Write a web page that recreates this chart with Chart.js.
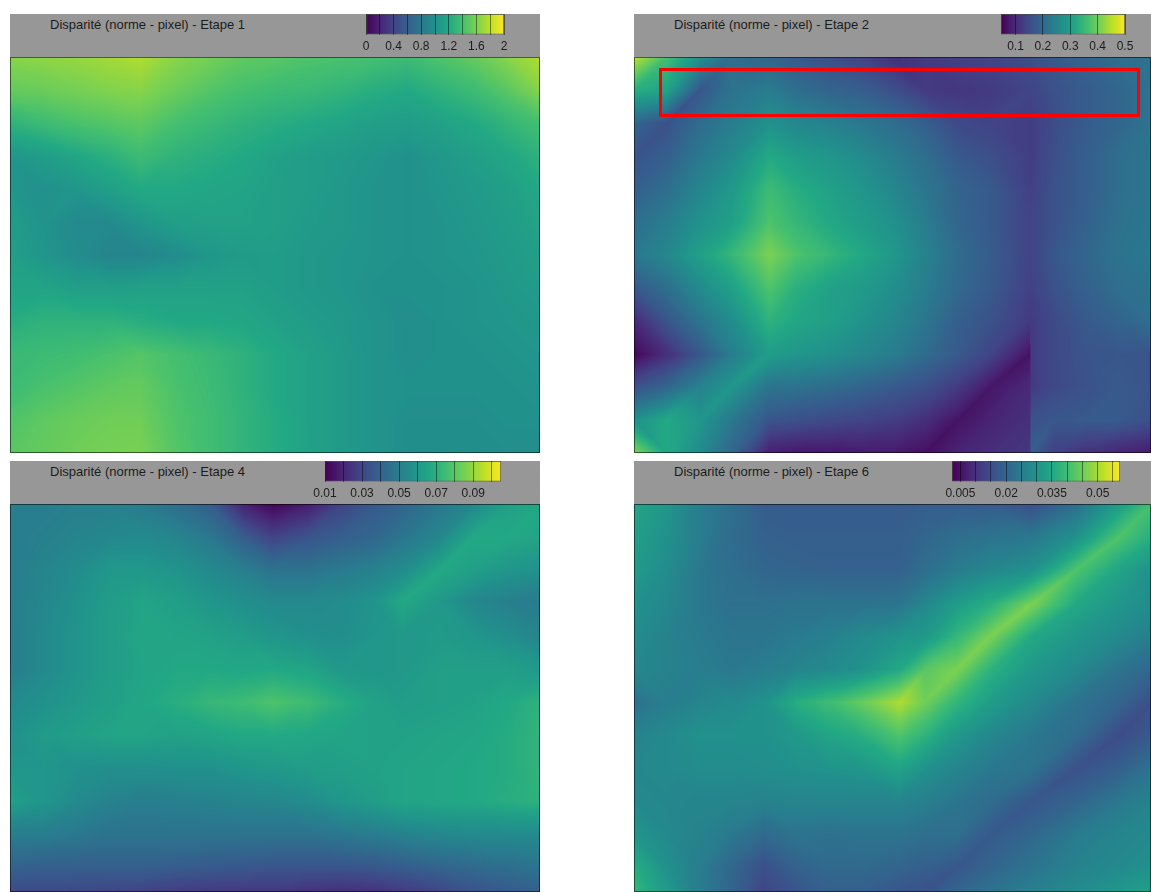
<!DOCTYPE html>
<html>
<head>
<meta charset="utf-8">
<title>Disparité</title>
<script src="https://cdn.jsdelivr.net/npm/chart.js@4"></script>
<style>
  html, body { margin: 0; background: #fff; }
  .bandeau { position: absolute; background: #979797; }
  .bandeau span { position: absolute; top: 3px; font: 13px "Liberation Sans", sans-serif; color: #1c1c1c; white-space: nowrap; }
  canvas { position: absolute; left: 0; top: 0; }
  .carte { position: absolute; }
</style>
</head>
<body>
<script>
// --- Data: disparity at image positions (colonnes, lignes) ---

const colonnes1 = [0,33,66,99,130,166,199,232,265,298,331,364,397,430,463,497,530]
const lignes1 = [0,33,66,99,132,165,198,231,264,297,330,363,396]
const etape1 = [
  [1.64,1.66,1.68,1.72,1.76,1.64,1.58,1.50,1.48,1.44,1.42,1.40,1.36,1.44,1.52,1.64,1.76],
  [1.52,1.54,1.58,1.62,1.64,1.54,1.46,1.40,1.36,1.34,1.30,1.24,1.20,1.28,1.36,1.48,1.64],
  [1.28,1.36,1.42,1.46,1.50,1.40,1.34,1.28,1.24,1.20,1.16,1.12,1.10,1.14,1.20,1.30,1.40],
  [1.04,1.10,1.18,1.26,1.36,1.28,1.24,1.20,1.14,1.10,1.08,1.04,1.00,1.06,1.12,1.18,1.28],
  [1.04,1.00,1.04,1.12,1.20,1.20,1.18,1.16,1.12,1.10,1.06,1.02,1.00,1.04,1.08,1.12,1.20],
  [1.10,1.02,0.94,0.94,1.04,1.12,1.14,1.14,1.12,1.08,1.06,1.02,1.00,1.02,1.06,1.10,1.16],
  [1.12,1.04,0.96,0.90,0.90,0.96,1.04,1.08,1.10,1.06,1.04,1.02,1.00,1.02,1.04,1.08,1.12],
  [1.16,1.16,1.12,1.12,1.14,1.14,1.14,1.14,1.10,1.06,1.04,1.00,1.00,1.00,1.02,1.06,1.10],
  [1.24,1.28,1.28,1.28,1.24,1.20,1.20,1.18,1.14,1.10,1.06,1.02,0.98,1.00,1.02,1.04,1.06],
  [1.34,1.36,1.38,1.42,1.46,1.40,1.34,1.28,1.20,1.14,1.08,1.02,0.98,1.00,1.00,1.02,1.04],
  [1.36,1.42,1.46,1.50,1.52,1.42,1.36,1.28,1.20,1.14,1.08,1.02,1.00,1.00,1.00,1.00,1.02],
  [1.44,1.50,1.54,1.56,1.56,1.44,1.38,1.30,1.22,1.14,1.08,1.02,0.98,0.98,0.98,1.00,1.00],
  [1.48,1.52,1.56,1.58,1.60,1.46,1.38,1.30,1.22,1.14,1.08,1.02,0.98,0.98,0.98,0.98,0.98]
]

const colonnes2 = [0,32,65,97,135,162,194,226,259,291,323,356,395,397,420,452,485,517]
const lignes2 = [0,33,66,99,132,165,197,231,264,297,330,363,396]
const etape2 = [
  [.455,.364,.274,.210,.196,.174,.156,.138,.110,.124,.133,.138,.156,.156,.174,.192,.210,.219],
  [.328,.310,.169,.219,.237,.210,.192,.183,.156,.124,.119,.124,.138,.138,.160,.178,.196,.219],
  [.192,.160,.206,.237,.274,.255,.246,.228,.210,.183,.147,.138,.129,.129,.151,.178,.196,.219],
  [.165,.183,.228,.260,.319,.296,.283,.264,.237,.210,.174,.156,.129,.129,.156,.183,.210,.224],
  [.183,.210,.251,.287,.355,.328,.305,.283,.255,.224,.192,.174,.133,.133,.160,.183,.210,.224],
  [.210,.237,.274,.301,.373,.346,.319,.296,.274,.237,.196,.174,.138,.138,.160,.187,.215,.224],
  [.228,.255,.301,.346,.409,.373,.346,.319,.287,.246,.206,.178,.138,.138,.169,.196,.219,.228],
  [.169,.210,.260,.301,.373,.332,.305,.292,.269,.237,.201,.174,.133,.133,.160,.187,.210,.219],
  [.101,.165,.219,.264,.337,.314,.301,.278,.255,.224,.183,.160,.124,.124,.147,.174,.192,.210],
  [.056,.106,.169,.237,.296,.283,.274,.255,.237,.206,.174,.138,.070,.124,.147,.165,.169,.165],
  [.160,.196,.246,.283,.219,.215,.206,.192,.174,.156,.124,.074,.101,.124,.147,.160,.174,.165],
  [.274,.319,.283,.228,.165,.156,.147,.138,.129,.106,.070,.092,.110,.160,.169,.174,.174,.156],
  [.418,.319,.264,.196,.083,.074,.074,.079,.079,.065,.092,.106,.119,.183,.129,.110,.092,.079]
]

const colonnes4 = [0,33,66,99,132,166,199,232,262,298,331,364,392,430,463,497,530]
const lignes4 = [0,33,66,97,132,165,198,231,264,297,330,363,388]
const etape4 = [
  [.0499,.0499,.0509,.0509,.049,.0442,.0385,.0195,.011,.0176,.029,.0366,.0404,.048,.0537,.0632,.067],
  [.0499,.0509,.0528,.0537,.0547,.0528,.048,.0385,.029,.0347,.0385,.0414,.0471,.0537,.067,.067,.0651],
  [.0499,.0528,.0556,.0604,.0604,.0585,.0547,.0509,.0461,.0461,.049,.0518,.0556,.067,.0632,.0594,.0575],
  [.0499,.0537,.0575,.0623,.0651,.0632,.0594,.0566,.0547,.0547,.0556,.0585,.067,.0604,.0537,.0509,.049],
  [.0499,.0547,.0585,.0623,.0661,.0651,.0642,.0623,.0594,.0575,.0566,.0594,.0604,.0613,.0594,.0566,.0528],
  [.0499,.0547,.0585,.0623,.0651,.067,.067,.0661,.067,.0651,.0604,.0594,.0604,.0632,.0632,.0632,.0613],
  [.0547,.0575,.0604,.0632,.0661,.0689,.0727,.0746,.0784,.0746,.0689,.0642,.0623,.0632,.0642,.067,.0708],
  [.0575,.0613,.0632,.0651,.0651,.0642,.0651,.067,.067,.0661,.0651,.0642,.0642,.0651,.0661,.068,.0718],
  [.0594,.0594,.0575,.0566,.0566,.0575,.0575,.0594,.0604,.0623,.0632,.0642,.0651,.0661,.067,.068,.0718],
  [.0632,.0594,.0547,.0518,.0499,.0509,.0518,.0528,.0537,.0556,.0594,.0623,.0651,.0661,.067,.0689,.0708],
  [.0499,.0499,.048,.0461,.0461,.0461,.0461,.0461,.0461,.0461,.048,.0499,.0518,.0537,.0547,.0547,.0547],
  [.0395,.0385,.0385,.0385,.0385,.0376,.0366,.0357,.0347,.0347,.0347,.0357,.0376,.0404,.0423,.0442,.0461],
  [.0309,.0309,.030,.029,.0281,.0262,.0252,.0252,.0252,.0233,.0224,.0233,.0252,.029,.0338,.0366,.0385]
]

const colonnes6 = [0,32,65,97,129,162,194,226,265,291,323,356,397,441,484,517]
const lignes6 = [0,33,66,100,132,165,198,231,264,297,330,363,388]
const etape6 = [
  [.0342,.0309,.0254,.0221,.0182,.0182,.0182,.0182,.0182,.0188,.0188,.0182,.0155,.0221,.0325,.0408],
  [.0331,.0298,.0254,.0215,.0193,.0188,.0188,.0188,.0188,.0204,.0221,.0232,.0243,.0298,.0419,.0364],
  [.0320,.0287,.0243,.0221,.0204,.0199,.0193,.0193,.0193,.0221,.0254,.0276,.0298,.0419,.0342,.0298],
  [.0298,.0276,.0243,.0226,.0226,.0232,.0232,.0232,.0237,.0276,.0325,.0369,.0463,.0353,.0309,.0287],
  [.0287,.0265,.0248,.0237,.0237,.0248,.0259,.0281,.0303,.0314,.0386,.0463,.0353,.0309,.0281,.0254],
  [.0276,.0265,.0254,.0243,.0254,.0270,.0281,.0298,.0353,.0430,.0463,.0375,.0314,.0281,.0232,.0204],
  [.0232,.0254,.0270,.0281,.0298,.0364,.0397,.0441,.0506,.0452,.0380,.0325,.0281,.0232,.0199,.0155],
  [.0265,.0281,.0298,.0298,.0298,.0314,.0342,.0364,.0419,.0375,.0314,.0276,.0243,.0215,.0149,.0177],
  [.0276,.0281,.0287,.0287,.0292,.0298,.0303,.0309,.0342,.0298,.0270,.0243,.0232,.0160,.0188,.0232],
  [.0281,.0276,.0270,.0270,.0265,.0270,.0270,.0270,.0270,.0259,.0237,.0215,.0171,.0199,.0243,.0265],
  [.0309,.0281,.0265,.0243,.0210,.0232,.0226,.0232,.0232,.0221,.0221,.0177,.0204,.0248,.0270,.0281],
  [.0364,.0298,.0254,.0204,.0155,.0193,.0210,.0210,.0199,.0188,.0171,.0199,.0232,.0265,.0281,.0298],
  [.0386,.0320,.0254,.0199,.0133,.0166,.0188,.0188,.0166,.0160,.0204,.0232,.0259,.0287,.0314,.0331]
]

// Colour bar ranges, graduations and the labels printed under them
const bornes1 = [0, 2]
const graduations1 = [0, 0.2, 0.4, 0.6, 0.8, 1, 1.2, 1.4, 1.6, 1.8, 2]
const etiquettes1 = ['0', '', '0.4', '', '0.8', '', '1.2', '', '1.6', '', '2']

const bornes2 = [0.047, 0.5]
const graduations2 = [0.1, 0.2, 0.3, 0.4, 0.5]
const etiquettes2 = ['0.1', '0.2', '0.3', '0.4', '0.5']

const bornes4 = [0.01, 0.105]
const graduations4 = [0.01, 0.02, 0.03, 0.04, 0.05, 0.06, 0.07, 0.08, 0.09, 0.1]
const etiquettes4 = ['0.01', '', '0.03', '', '0.05', '', '0.07', '', '0.09', '']

const bornes6 = [0.00225, 0.0573]
const graduations6 = [0.005, 0.01, 0.015, 0.02, 0.025, 0.03, 0.035, 0.04, 0.045, 0.05, 0.055]
const etiquettes6 = ['0.005', '', '', '0.02', '', '', '0.035', '', '', '0.05', '']

// Red frame of Etape 2, in image positions
const cadreX = [26.5, 504.5, 504.5, 26.5, 26.5]
const cadreY = [12.5, 12.5, 58.5, 58.5, 12.5]

const viridis = ['#440154','#482475','#414487','#355f8d','#2a788e','#21918c','#22a884','#44bf70','#7ad151','#bddf26','#fde725']

// --- Helpers ---

function viridisRgb(t) {
  const p = Math.min(Math.max(t, 0), 1) * (viridis.length - 1)
  const i = Math.min(Math.floor(p), viridis.length - 2)
  const f = p - i
  const a = parseInt(viridis[i].slice(1), 16)
  const b = parseInt(viridis[i + 1].slice(1), 16)
  return [16, 8, 0].map(s => Math.round(((a >> s) & 255) * (1 - f) + ((b >> s) & 255) * f))
}

const viridisLut = Array.from({ length: 512 }, (_, i) => viridisRgb(i / 511))

// Value inside a grid cell: two triangles, split along the diagonal whose ends are closest
function cellValue(a, b, c, d, fx, fy) {
  if (Math.abs(a - d) <= Math.abs(b - c)) {
    return fx >= fy ? a + (b - a) * fx + (d - b) * fy : a + (c - a) * fy + (d - c) * fx
  }
  return fx + fy <= 1 ? a + (b - a) * fx + (c - a) * fy : d + (c - d) * (1 - fx) + (b - d) * (1 - fy)
}

// Fills each grid cell between the pixel positions of its four parsed points
const heatPlugin = {
  id: 'heat',
  beforeDatasetsDraw(chart, args, opts) {
    const pts = chart.getDatasetMeta(0).data
    const cells = chart.data.datasets[0].data
    const ctx = chart.ctx
    const img = ctx.createImageData(chart.width, chart.height)
    const [lo, hi] = opts.range
    for (let j = 0; j < opts.rows - 1; j++) {
      for (let i = 0; i < opts.cols - 1; i++) {
        const k = j * opts.cols + i
        const x0 = Math.round(pts[k].x)
        const x1 = Math.round(pts[k + 1].x)
        const y0 = Math.round(pts[k].y)
        const y1 = Math.round(pts[k + opts.cols].y)
        for (let py = y0; py < Math.min(y1 + 1, chart.height); py++) {
          const fy = y1 > y0 ? (py - y0) / (y1 - y0) : 0
          for (let px = x0; px < Math.min(x1 + 1, chart.width); px++) {
            const fx = x1 > x0 ? (px - x0) / (x1 - x0) : 0
            const v = cellValue(cells[k].v, cells[k + 1].v, cells[k + opts.cols].v, cells[k + opts.cols + 1].v, fx, fy)
            const t = (v - lo) / (hi - lo)
            const rgb = viridisLut[Math.max(0, Math.min(511, Math.round(t * 511)))]
            const o = (py * chart.width + px) * 4
            img.data[o] = rgb[0]
            img.data[o + 1] = rgb[1]
            img.data[o + 2] = rgb[2]
            img.data[o + 3] = 255
          }
        }
      }
    }
    ctx.putImageData(img, 0, 0)
  },
  afterDraw(chart) {
    const ctx = chart.ctx
    ctx.save()
    ctx.strokeStyle = 'rgba(0,0,0,.55)'
    ctx.lineWidth = 1
    ctx.strokeRect(0.5, 0.5, chart.width - 1, chart.height - 1)
    ctx.restore()
  }
}

function addPanel(cfg) {
  const band = document.createElement('div')
  band.className = 'bandeau'
  band.style.cssText = `left:${cfg.left}px;top:${cfg.top}px;width:${cfg.width}px;height:43px`
  const title = document.createElement('span')
  title.textContent = cfg.title
  title.style.left = cfg.titleX + 'px'
  band.appendChild(title)
  const barCanvas = document.createElement('canvas')
  barCanvas.width = cfg.width
  barCanvas.height = 43
  band.appendChild(barCanvas)
  document.body.appendChild(band)

  new Chart(barCanvas, {
    type: 'bar',
    data: {
      labels: [''],
      datasets: [{
        data: [cfg.range],
        barPercentage: 1,
        categoryPercentage: 1,
        borderWidth: 1,
        borderColor: 'rgba(0,0,0,.5)',
        borderSkipped: false,
        backgroundColor: c => {
          const area = c.chart.chartArea
          if (!area) return viridis[5]
          const g = c.chart.ctx.createLinearGradient(area.left, 0, area.right, 0)
          viridis.forEach((col, i) => g.addColorStop(i / (viridis.length - 1), col))
          return g
        }
      }]
    },
    options: {
      indexAxis: 'y',
      responsive: false,
      animation: false,
      layout: { padding: { left: cfg.barLeft, right: cfg.width - cfg.barRight, top: 0, bottom: 2 } },
      plugins: { legend: { display: false }, tooltip: { enabled: false } },
      scales: {
        y: { display: false },
        x: {
          min: cfg.range[0],
          max: cfg.range[1],
          afterBuildTicks: scale => { scale.ticks = cfg.graduations.map(v => ({ value: v })) },
          border: { display: false },
          grid: { z: 1, color: 'rgba(0,0,0,.45)', drawTicks: false },
          ticks: {
            autoSkip: false,
            maxRotation: 0,
            padding: 5,
            color: '#1c1c1c',
            font: { family: '"Liberation Sans"', size: 12 },
            callback: (v, i) => cfg.etiquettes[i]
          }
        }
      }
    }
  })

  const map = document.createElement('div')
  map.className = 'carte'
  map.style.cssText = `left:${cfg.left}px;top:${cfg.top + 43}px;width:${cfg.width}px;height:${cfg.height}px`
  const mapCanvas = document.createElement('canvas')
  mapCanvas.width = cfg.width
  mapCanvas.height = cfg.height
  map.appendChild(mapCanvas)
  document.body.appendChild(map)

  const cells = []
  cfg.values.forEach((row, j) => row.forEach((v, i) => cells.push({ x: cfg.colonnes[i], y: cfg.lignes[j], v })))
  const datasets = [{ data: cells, pointRadius: 0 }]
  if (cfg.frame) {
    datasets.push({
      type: 'line',
      data: cfg.frame,
      borderColor: '#ff0000',
      borderWidth: 3,
      borderJoinStyle: 'miter',
      borderCapStyle: 'square',
      pointRadius: 0,
      tension: 0
    })
  }

  new Chart(mapCanvas, {
    type: 'scatter',
    data: { datasets },
    plugins: [heatPlugin],
    options: {
      responsive: false,
      animation: false,
      layout: { padding: 0 },
      plugins: {
        legend: { display: false },
        tooltip: { enabled: false },
        heat: { range: cfg.range, rows: cfg.lignes.length, cols: cfg.colonnes.length }
      },
      scales: {
        x: { type: 'linear', display: false, min: 0, max: cfg.colonnes[cfg.colonnes.length - 1] },
        y: { type: 'linear', display: false, min: 0, max: cfg.lignes[cfg.lignes.length - 1], reverse: true }
      }
    }
  })
}

// --- Panels ---

const titre = 'Disparité (norme - pixel) - Etape '

addPanel({
  title: titre + '1', titleX: 40, left: 10, top: 14, width: 530, height: 396,
  barLeft: 356, barRight: 494, range: bornes1,
  graduations: graduations1, etiquettes: etiquettes1,
  colonnes: colonnes1, lignes: lignes1, values: etape1
})
addPanel({
  title: titre + '2', titleX: 40, left: 634, top: 14, width: 517, height: 396,
  barLeft: 367, barRight: 491, range: bornes2,
  graduations: graduations2, etiquettes: etiquettes2,
  colonnes: colonnes2, lignes: lignes2, values: etape2,
  frame: cadreX.map((x, i) => ({ x, y: cadreY[i] }))
})
addPanel({
  title: titre + '4', titleX: 40, left: 10, top: 461, width: 530, height: 388,
  barLeft: 315, barRight: 491, range: bornes4,
  graduations: graduations4, etiquettes: etiquettes4,
  colonnes: colonnes4, lignes: lignes4, values: etape4
})
addPanel({
  title: titre + '6', titleX: 40, left: 634, top: 461, width: 517, height: 388,
  barLeft: 318, barRight: 486, range: bornes6,
  graduations: graduations6, etiquettes: etiquettes6,
  colonnes: colonnes6, lignes: lignes6, values: etape6
})
</script>
</body>
</html>
